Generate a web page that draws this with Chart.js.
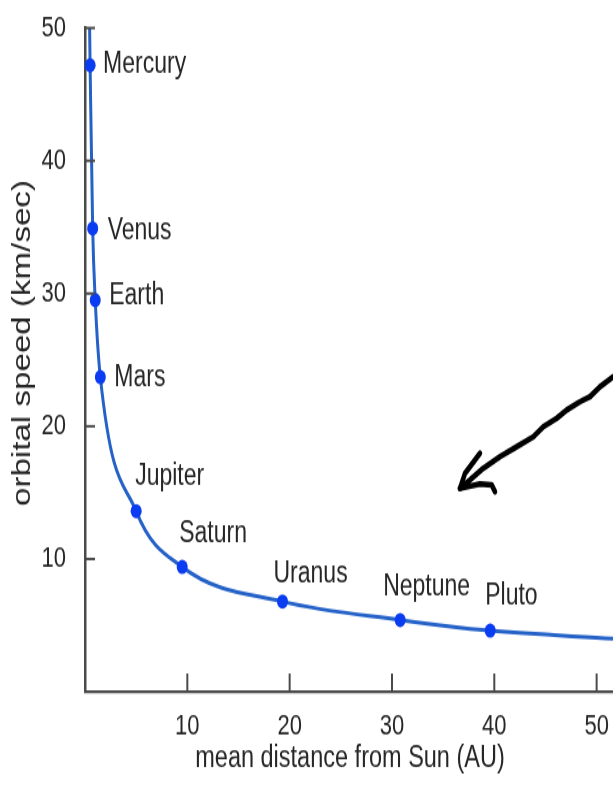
<!DOCTYPE html>
<html>
<head>
<meta charset="utf-8">
<script src="https://cdn.jsdelivr.net/npm/chart.js@4.4.1/dist/chart.umd.min.js"></script>
<style>
  html, body { margin: 0; padding: 0; background: #ffffff; overflow: hidden; }
  /* the original is a vertically stretched scan: draw at 613x609 and stretch 1.3x */
  #wrap { position: absolute; left: 0; top: 0; width: 613px; height: 609px;
          transform: scaleY(1.3); transform-origin: 0 0; }
  #c { display: block; width: 613px; height: 609px; }
</style>
</head>
<body>
<div id="wrap"><canvas id="c" width="613" height="609"></canvas></div>
<script>
// ---------------- data ----------------
const planets    = ['Mercury', 'Venus', 'Earth', 'Mars', 'Jupiter', 'Saturn', 'Uranus', 'Neptune', 'Pluto'];
const distanceAU = [0.5, 0.75, 1.0, 1.5, 5.0, 9.5, 19.3, 30.8, 39.6];
const speedKmS   = [47.2, 34.9, 29.5, 23.7, 13.6, 9.4, 6.8, 5.4, 4.6];
// where the drawn curve begins (top of the axis) and where it leaves the picture
const curveLeadX = [0.45];
const curveLeadY = [50];
const curveTailX = [51.6];
const curveTailY = [4.0];
// axis ticks and titles
const xTickValues = [10, 20, 30, 40, 50];
const yTickValues = [10, 20, 30, 40, 50];
const xTitle = 'mean distance from Sun (AU)';
const yTitle = 'orbital speed (km/sec)';

// ---------------- drawing ----------------
const S = 1.3;                       // vertical stretch applied by CSS
const FONT = '"Liberation Sans", Arial, Helvetica, sans-serif';
const TEXT = '#262626';
const AXIS = '#4a4a4a';

const curveX = curveLeadX.concat(distanceAU, curveTailX);
const curveY = curveLeadY.concat(speedKmS, curveTailY);
const curveData  = curveX.map((x, i) => ({ x: x, y: curveY[i] }));
const planetData = distanceAU.map((x, i) => ({ x: x, y: speedKmS[i] }));

// label offsets from each point (reference pixels: dx, dy)
const labelOffsets = [[13, 0], [15, 3], [14, -4], [14, 1], [-1, -34], [-3, -33], [-9, -27], [-17, -33], [-5, -35]];

function noPad(s) { s.paddingTop = 0; s.paddingBottom = 0; s.paddingLeft = 0; s.paddingRight = 0; }

const decor = {
  id: 'decor',
  afterDatasetsDraw(chart) {
    const ctx = chart.ctx, xs = chart.scales.x, ys = chart.scales.y, ca = chart.chartArea;
    ctx.save();
    // inward tick marks
    ctx.strokeStyle = AXIS; ctx.lineWidth = 2;
    xTickValues.forEach(v => {
      const px = xs.getPixelForValue(v);
      ctx.beginPath(); ctx.moveTo(px, ca.bottom); ctx.lineTo(px, ca.bottom - 14); ctx.stroke();
    });
    yTickValues.forEach(v => {
      const py = ys.getPixelForValue(v);
      ctx.beginPath(); ctx.moveTo(ca.left, py); ctx.lineTo(ca.left + 10, py); ctx.stroke();
    });
    // planet names
    ctx.fillStyle = TEXT;
    ctx.font = '23px ' + FONT;
    ctx.textAlign = 'left'; ctx.textBaseline = 'middle';
    const meta = chart.getDatasetMeta(1);
    meta.data.forEach((pt, i) => {
      const o = labelOffsets[i];
      ctx.fillText(planets[i], pt.x + o[0], pt.y + o[1] / S);
    });
    // axis titles
    ctx.font = '23.5px ' + FONT;
    ctx.textAlign = 'center'; ctx.textBaseline = 'alphabetic';
    ctx.fillText(xTitle, 350, 767 / S);
    ctx.save();
    ctx.translate(23, 343 / S);
    ctx.rotate(-Math.PI / 2);
    ctx.font = '25.5px ' + FONT;
    ctx.textBaseline = 'middle';
    ctx.fillText(yTitle, 0, 0);
    ctx.restore();
    // hand-drawn arrow annotation
    const stroke = [[613.3,376.7],[600,386.7],[590,396.7],[580,401.7],[566.7,410],[556.7,418.3],[543.3,426.7],
                    [533.3,436.7],[516.7,446.7],[500,456.7],[483.3,468.3],[470,480],[460,488.3]];
    const barb1 = [[460,488.3],[465,473.3],[480,453.3]];
    const barb2 = [[460,488.3],[480,484],[491.7,485],[495,491.7]];
    ctx.strokeStyle = '#000'; ctx.lineWidth = 4.5; ctx.lineCap = 'round'; ctx.lineJoin = 'round';
    [stroke, barb1, barb2].forEach(p => {
      ctx.beginPath();
      p.forEach((q, k) => k ? ctx.lineTo(q[0], q[1] / S) : ctx.moveTo(q[0], q[1] / S));
      ctx.stroke();
    });
    ctx.restore();
  }
};

new Chart(document.getElementById('c'), {
  type: 'scatter',
  data: {
    datasets: [
      { data: curveData, showLine: true, borderColor: '#2562c8', borderWidth: 3,
        pointRadius: 0, cubicInterpolationMode: 'monotone', fill: false, order: 1 },
      { data: planetData, showLine: false, pointRadius: 5.5, pointBackgroundColor: '#0a3cf2',
        pointBorderWidth: 0, order: 0 }
    ]
  },
  options: {
    responsive: false,
    devicePixelRatio: 1,
    animation: false,
    events: [],
    layout: { autoPadding: false, padding: { top: 28 / S, left: 0, right: 0, bottom: 0 } },
    plugins: { legend: { display: false }, tooltip: { enabled: false } },
    scales: {
      x: {
        type: 'linear', min: 0, max: 51.6,
        grid: { display: false, drawTicks: false },
        border: { display: true, color: AXIS, width: 2.2 },
        afterBuildTicks: s => { s.ticks = xTickValues.map(v => ({ value: v })); },
        afterFit: s => { s.height = 609 - 691.7 / S; noPad(s); },
        ticks: { autoSkip: false, maxRotation: 0, padding: 13.2, color: TEXT,
                 font: { family: FONT, size: 22 } }
      },
      y: {
        type: 'linear', min: 0, max: 50,
        grid: { display: false, drawTicks: false },
        border: { display: true, color: AXIS, width: 2.5 },
        afterBuildTicks: s => { s.ticks = yTickValues.map(v => ({ value: v })); },
        afterFit: s => { s.width = 85; noPad(s); },
        ticks: { autoSkip: false, padding: 19, color: TEXT,
                 font: { family: FONT, size: 22 } }
      }
    }
  },
  plugins: [decor]
});
</script>
</body>
</html>
